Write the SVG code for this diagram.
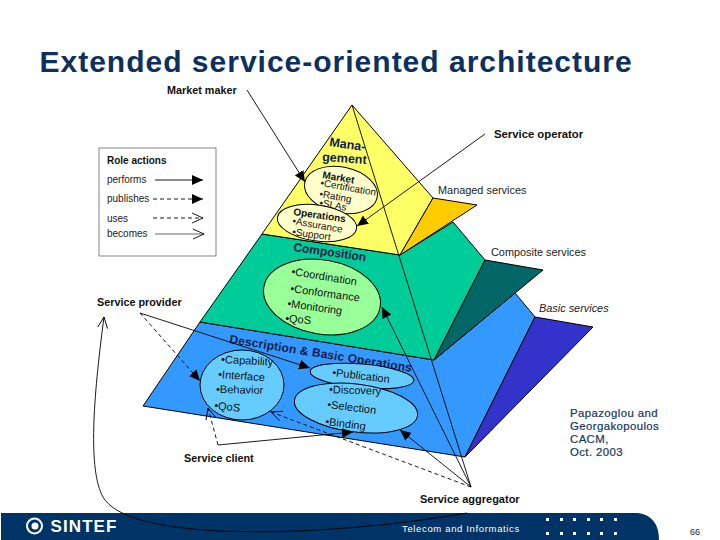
<svg xmlns="http://www.w3.org/2000/svg" width="720" height="540" viewBox="0 0 720 540">
<style>
text{font-family:"Liberation Sans",Arial,sans-serif;fill:#111}
.b{font-weight:bold;font-size:10.8px}
.r{font-size:10px;fill:#222}
.i{font-size:10.9px;fill:#222}
.e{stroke:#000;stroke-width:1}
.p{stroke:#000;stroke-width:1;stroke-linejoin:round}
.s{fill:none;stroke:#000;stroke-width:.9}
.d{fill:none;stroke:#000;stroke-width:.9;stroke-dasharray:4 3}
.h{font-weight:bold;font-size:12px;fill:#10204a}
.t{font-size:11px;fill:#111}
.m{font-size:10px;fill:#111}
.f{font-size:11.4px;fill:#14365c;letter-spacing:.4px;stroke:#14365c;stroke-width:.2}
.w{fill:#fff}
</style>
<defs>
<marker id="fa" markerUnits="userSpaceOnUse" markerWidth="12" markerHeight="10" refX="11" refY="5" orient="auto"><path d="M0 0L11 5L0 10Z" fill="#000"/></marker>
<marker id="oa" markerUnits="userSpaceOnUse" markerWidth="12" markerHeight="12" refX="11" refY="6" orient="auto"><path d="M0 1L11 6L0 11" fill="none" stroke="#000" stroke-width=".9"/></marker>
</defs>
<rect width="720" height="540" fill="#fff"/>
<text x="39.5" y="72" style="font-size:30px;font-weight:bold;fill:#0c3060;letter-spacing:1px">Extended service-oriented architecture</text>

<g id="footer">
<path d="M1 513H638Q659 516 659 540H1Z" fill="#003366"/>
<circle cx="34.5" cy="526" r="7.5" fill="none" stroke="#fff" stroke-width="2"/>
<circle cx="35" cy="526" r="3.5" fill="#fff"/>
<text x="50.5" y="532" style="font-size:17px;font-weight:bold;fill:#fff;letter-spacing:1.1px">SINTEF</text>
<text x="402" y="532" style="font-size:9.5px;letter-spacing:.65px;fill:#fff">Telecom and Informatics</text>
<g class="w"><rect x="546" y="518" width="3" height="3"/><rect x="560" y="518" width="3" height="3"/><rect x="573" y="518" width="3" height="3"/><rect x="587" y="518" width="3" height="3"/><rect x="600" y="518" width="3" height="3"/><rect x="614" y="518" width="3" height="3"/>
<rect x="546" y="532" width="3" height="3"/><rect x="560" y="532" width="3" height="3"/><rect x="573" y="532" width="3" height="3"/><rect x="587" y="532" width="3" height="3"/><rect x="600" y="532" width="3" height="3"/><rect x="614" y="532" width="3" height="3"/></g>
<text x="690" y="535" style="font-size:9px;fill:#222">66</text>
</g>

<g id="pyramid-basic">
<path class="p" d="M200 322L434 360L515 293L535 317L465 457L143 406Z" fill="#3399ff"/>
<path class="p" d="M535 317L593 327L465 457Z" fill="#3333cc"/>
</g>
<g id="pyramid-composite">
<path class="p" d="M262 234L400 255L453 222L485 260L434 360L200 322Z" fill="#00cc99"/>
<path class="p" d="M485 260L543 270L434 360Z" fill="#006666"/>
</g>
<g id="pyramid-managed">
<path class="p" d="M352 105L433 198L400 255L262 234Z" fill="#ffff66"/>
<path class="p" d="M433 198L477 205L400 255Z" fill="#ffcc00"/>
</g>

<g id="management-labels">
<text class="h" style="font-size:12.5px" transform="translate(329 146) rotate(8)">Mana-</text>
<text class="h" style="font-size:12.5px" transform="translate(322 161) rotate(4)">gement</text>
</g>
<g id="market">
<ellipse class="e" cx="341" cy="190" rx="37" ry="23" transform="rotate(12 341 190)" fill="#ffffcc"/>
<text class="m" style="font-weight:bold" transform="translate(322 178) rotate(10)">Market</text>
<text class="m" transform="translate(320 186) rotate(10)">•Certification</text>
<text class="m" transform="translate(319 197) rotate(10)">•Rating</text>
<text class="m" transform="translate(319 206) rotate(10)">•SLAs</text>
</g>
<g id="operations">
<ellipse class="e" cx="317" cy="223" rx="40" ry="18" transform="rotate(8 317 223)" fill="#ffffcc"/>
<text class="m" style="font-weight:bold" transform="translate(293 215) rotate(8)">Operations</text>
<text class="m" transform="translate(292 224) rotate(10)">•Assurance</text>
<text class="m" transform="translate(292 235) rotate(8)">•Support</text>
</g>
<g id="composition">
<text class="h" transform="translate(293 251) rotate(8)">Composition</text>
<ellipse class="e" cx="322" cy="297" rx="59" ry="37" transform="rotate(10 322 297)" fill="#99ff99"/>
<text class="t" transform="translate(291 275) rotate(9)">•Coordination</text>
<text class="t" transform="translate(290 292) rotate(8)">•Conformance</text>
<text class="t" transform="translate(287 307) rotate(8)">•Monitoring</text>
<text class="t" transform="translate(285 322) rotate(5)">•QoS</text>
</g>
<g id="description">
<text class="h" style="letter-spacing:.15px" transform="translate(229 343) rotate(9)">Description &amp; Basic Operations</text>
<ellipse class="e" cx="242" cy="385" rx="42" ry="35" fill="#66ccff"/>
<ellipse class="e" cx="362" cy="376" rx="52" ry="12" transform="rotate(5 362 376)" fill="#66ccff"/>
<ellipse class="e" cx="356" cy="408" rx="62" ry="24" transform="rotate(7 356 408)" fill="#66ccff"/>
<text class="t" transform="translate(221 363) rotate(3)">•Capability</text>
<text class="t" transform="translate(218 378) rotate(4)">•Interface</text>
<text class="t" transform="translate(216 393) rotate(1)">•Behavior</text>
<text class="t" transform="translate(214 409) rotate(6)">•QoS</text>
<text class="t" transform="translate(332 376) rotate(7)">•Publication</text>
<text class="t" transform="translate(329 393) rotate(2)">•Discovery</text>
<text class="t" transform="translate(327 408) rotate(7)">•Selection</text>
<text class="t" transform="translate(325 425) rotate(7)">•Binding</text>
</g>

<g id="connectors">
<path class="s" d="M247 90L305 182" marker-end="url(#fa)"/>
<path class="s" d="M485 134L357 226" marker-end="url(#fa)"/>
<path class="s" d="M352 105L471 487"/>
<path class="s" d="M471 487L382 307" marker-end="url(#fa)"/>
<path class="s" d="M471 487L400 430" marker-end="url(#fa)"/>
<path class="d" d="M471 487L271 412" marker-end="url(#oa)"/>
<path class="s" d="M467 513C380 528 290 534 220 531C160 528 115 518 103 497C88 470 93 400 104 317" marker-end="url(#oa)"/>
<path class="d" d="M140 313L200 381" marker-end="url(#fa)"/>
<path class="s" d="M140 313L310 368" marker-end="url(#fa)"/>
<path class="d" d="M218 445L208 408" marker-end="url(#oa)"/>
<path class="s" d="M218 445L353 432" marker-end="url(#fa)"/>
</g>

<g id="legend">
<rect x="99" y="148" width="117" height="108" fill="#fff" stroke="#666" stroke-width=".8"/>
<text class="b" style="font-size:10px" x="107" y="164">Role actions</text>
<text class="r" x="107" y="183">performs</text>
<text class="r" x="107" y="202">publishes</text>
<text class="r" x="107" y="222">uses</text>
<text class="r" x="107" y="237">becomes</text>
<path class="s" d="M155 180H203" marker-end="url(#fa)"/>
<path class="d" d="M153 199H203" marker-end="url(#fa)"/>
<path class="d" d="M153 218H203" marker-end="url(#oa)"/>
<path class="s" d="M155 234H204" style="stroke:#555" marker-end="url(#oa)"/>
</g>

<g id="labels">
<text class="b" x="167" y="94">Market maker</text>
<text class="b" style="font-size:11.3px" x="494" y="138">Service operator</text>
<text class="b" x="97" y="306">Service provider</text>
<text class="b" x="184" y="462">Service client</text>
<text class="b" style="font-size:11px" x="420" y="503">Service aggregator</text>
<text class="i" x="438" y="194">Managed services</text>
<text class="i" x="491" y="256">Composite services</text>
<text class="i" style="font-style:italic" x="539" y="312">Basic services</text>
</g>
<g id="citation">
<text class="f" x="570" y="417">Papazoglou and</text>
<text class="f" x="570" y="430">Georgakopoulos</text>
<text class="f" x="570" y="443">CACM,</text>
<text class="f" x="570" y="456">Oct. 2003</text>
</g>
</svg>
